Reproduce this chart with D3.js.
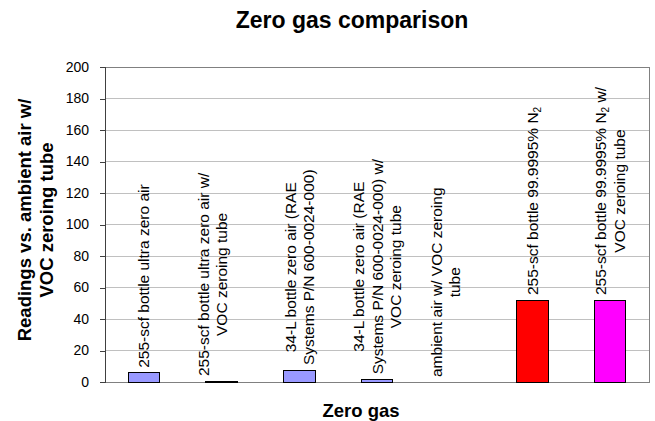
<!DOCTYPE html>
<html>
<head>
<meta charset="utf-8">
<script src="https://cdn.jsdelivr.net/npm/d3@7"></script>
<style>
  html, body { margin: 0; padding: 0; background: #fff; }
  svg { display: block; font-family: Arial, "Liberation Sans", sans-serif; }
</style>
</head>
<body>
<svg id="chart" width="655" height="421"></svg>
<script>
// ---- data ----
const categories = [
  ["255-scf bottle ultra zero air"],
  ["255-scf bottle ultra zero air w/", "VOC zeroing tube"],
  ["34-L bottle zero air (RAE", "Systems P/N 600-0024-000)"],
  ["34-L bottle zero air (RAE", "Systems P/N 600-0024-000) w/", "VOC zeroing tube"],
  ["ambient air w/ VOC zeroing", "tube"],
  ["255-scf bottle 99.9995% N{2}"],
  ["255-scf bottle 99.9995% N{2} w/", "VOC zeroing tube"]
];
const values = [5.8, 0.6, 7.6, 1.7, 0, 52, 52];
const barColors = ["#9999FF", "#000000", "#9999FF", "#9999FF", "#9999FF", "#FF0000", "#FF00FF"];
const yTicks = [0, 20, 40, 60, 80, 100, 120, 140, 160, 180, 200];
const title = "Zero gas comparison";
const xTitle = "Zero gas";
const yTitle = ["Readings vs. ambient air w/", "VOC zeroing tube"];

// ---- layout ----
const svg = d3.select("#chart");
const plot = { left: 105, right: 649, top: 67, bottom: 382 };

const x = d3.scaleBand()
  .domain(d3.range(categories.length))
  .range([plot.left, plot.right])
  .paddingInner(0.595)
  .paddingOuter(0.2975);

const y = d3.scaleLinear().domain([0, 200]).range([plot.bottom, plot.top]);

// gridlines
svg.append("g")
  .selectAll("line")
  .data(yTicks.filter(d => d > 0))
  .join("line")
  .attr("x1", plot.left).attr("x2", plot.right)
  .attr("y1", d => y(d)).attr("y2", d => y(d))
  .attr("stroke", "#c0c0c0").attr("stroke-width", 1)
  .attr("shape-rendering", "crispEdges");

// plot border (top, right, bottom)
svg.append("path")
  .attr("d", `M${plot.left},${plot.top}H${plot.right}V${plot.bottom}H${plot.left}`)
  .attr("fill", "none").attr("stroke", "#808080").attr("stroke-width", 1)
  .attr("shape-rendering", "crispEdges");

// bars
svg.append("g")
  .selectAll("rect")
  .data(values)
  .join("rect")
  .attr("x", (d, i) => x(i))
  .attr("width", x.bandwidth())
  .attr("y", d => y(d))
  .attr("height", d => y(0) - y(d))
  .attr("fill", (d, i) => barColors[i])
  .attr("stroke", "#000")
  .attr("stroke-width", d => d > 0 ? 1 : 0)
  .attr("shape-rendering", "crispEdges");

// y axis
const yAxis = d3.axisLeft(y).tickValues(yTicks).tickSize(5).tickPadding(11);
const gy = svg.append("g")
  .attr("transform", `translate(${plot.left},0)`)
  .call(yAxis);
gy.select(".domain").attr("stroke", "#404040").attr("shape-rendering", "crispEdges");
gy.selectAll(".tick line").attr("stroke", "#404040").attr("shape-rendering", "crispEdges");
gy.selectAll(".tick text")
  .attr("font-size", "14px")
  .attr("font-family", "Arial, 'Liberation Sans', sans-serif")
  .attr("fill", "#000");

// data labels (rotated)
const labelFont = 15.5;
const lineGap = 18.5;
const labelsG = svg.append("g");
categories.forEach((lines, i) => {
  const cx = x(i) + x.bandwidth() / 2;
  const top = y(values[i]);
  const g = labelsG.append("g");
  const texts = lines.map((line, li) => {
    const t = g.append("text")
      .attr("font-size", labelFont + "px")
      .attr("text-anchor", "middle")
      .attr("fill", "#000");
    const parts = line.split(/\{(\d)\}/);
    parts.forEach((p, pi) => {
      if (pi % 2 === 1) {
        t.append("tspan").attr("font-size", (labelFont * 0.65) + "px").attr("dy", 3).text(p);
      } else if (p.length) {
        t.append("tspan").attr("dy", pi > 0 ? -3 : 0).text(p);
      }
    });
    return t;
  });
  const maxLen = d3.max(texts, t => t.node().getComputedTextLength());
  const n = lines.length;
  // labels on (near-)empty bars sit with their last line over the bar centre
  const anchorLine = values[i] < 1 ? n - 1 : (n - 1) / 2;
  texts.forEach((t, li) => {
    const off = (li - anchorLine) * lineGap;
    t.attr("transform",
      `translate(${cx + off + labelFont * 0.36},${top - 5 - maxLen / 2}) rotate(-90)`);
  });
});

// title
svg.append("text")
  .attr("x", 352).attr("y", 28)
  .attr("text-anchor", "middle")
  .attr("font-size", "23px").attr("font-weight", "bold")
  .text(title);

// x axis title
svg.append("text")
  .attr("x", 361).attr("y", 417)
  .attr("text-anchor", "middle")
  .attr("font-size", "18.5px").attr("font-weight", "bold")
  .text(xTitle);

// y axis title
yTitle.forEach((line, li) => {
  svg.append("text")
    .attr("transform", `translate(${31 + li * 21.5},220) rotate(-90)`)
    .attr("text-anchor", "middle")
    .attr("font-size", "18.5px").attr("font-weight", "bold")
    .text(line);
});
</script>
</body>
</html>
